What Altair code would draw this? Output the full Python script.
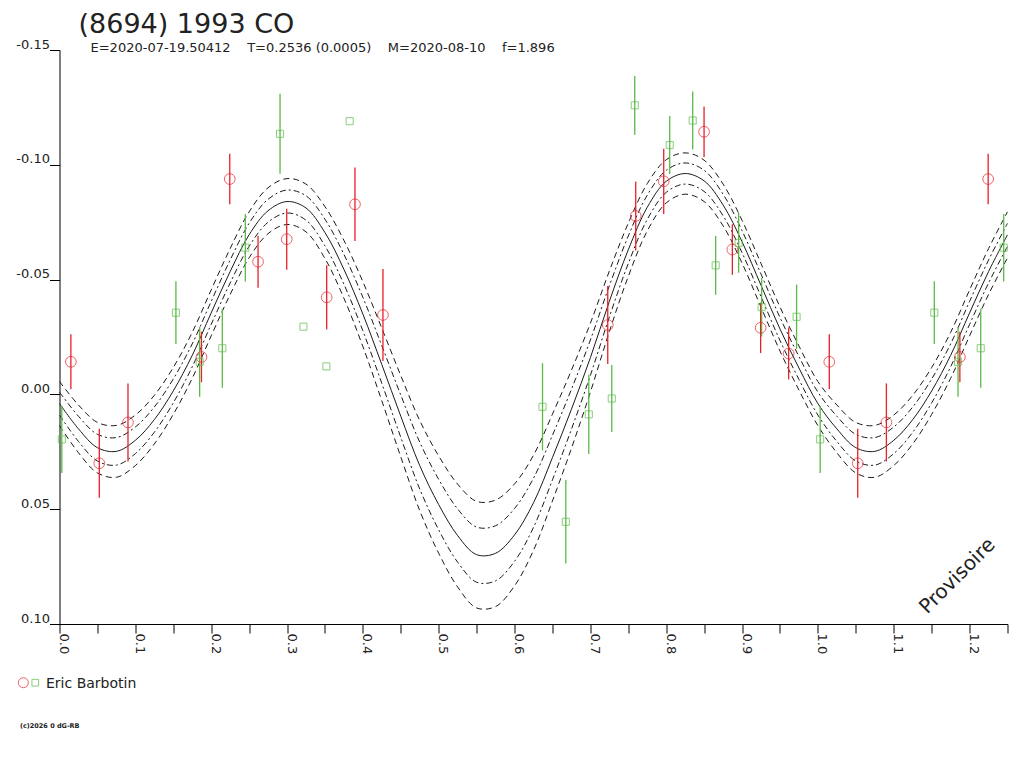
import pandas as pd
import altair as alt

# fitted light curve, every 0.025 in phase (one cycle)
fit_phase = [0.000, 0.025, 0.050, 0.075, 0.100, 0.125, 0.150, 0.175, 0.200, 0.225,
             0.250, 0.275, 0.300, 0.325, 0.350, 0.375, 0.400, 0.425, 0.450, 0.475,
             0.500, 0.525, 0.550, 0.575, 0.600, 0.625, 0.650, 0.675, 0.700, 0.725,
             0.750, 0.775, 0.800, 0.825, 0.850, 0.875, 0.900, 0.925, 0.950, 0.975]
fit_mag = [0.0040, 0.0150, 0.0232, 0.0248, 0.0200, 0.0110, -0.0015, -0.0170, -0.0355, -0.0535,
           -0.0695, -0.0800, -0.0840, -0.0812, -0.0705, -0.0545, -0.0350, -0.0130, 0.0095, 0.0310,
           0.0480, 0.0615, 0.0698, 0.0692, 0.0612, 0.0472, 0.0275, 0.0065, -0.0160, -0.0405,
           -0.0630, -0.0815, -0.0928, -0.0962, -0.0930, -0.0825, -0.0665, -0.0475, -0.0285, -0.0115]
# half widths of the dash-dot (inner) and dashed (outer) envelopes
fit_inner = [0.0050, 0.0055, 0.0058, 0.0060, 0.0058, 0.0055, 0.0052, 0.0050, 0.0050, 0.0050,
             0.0050, 0.0050, 0.0050, 0.0053, 0.0058, 0.0065, 0.0073, 0.0082, 0.0092, 0.0102,
             0.0110, 0.0116, 0.0120, 0.0120, 0.0115, 0.0107, 0.0097, 0.0087, 0.0077, 0.0068,
             0.0060, 0.0053, 0.0048, 0.0046, 0.0046, 0.0047, 0.0048, 0.0049, 0.0050, 0.0050]
fit_outer = [0.0096, 0.0104, 0.0110, 0.0113, 0.0110, 0.0106, 0.0102, 0.0100, 0.0100, 0.0100,
             0.0100, 0.0100, 0.0100, 0.0104, 0.0113, 0.0126, 0.0141, 0.0158, 0.0177, 0.0196,
             0.0212, 0.0224, 0.0232, 0.0232, 0.0222, 0.0207, 0.0189, 0.0170, 0.0150, 0.0132,
             0.0116, 0.0103, 0.0094, 0.0090, 0.0090, 0.0091, 0.0093, 0.0095, 0.0096, 0.0096]

# session 1 (red circles)
red_phase = [0.0150, 0.0525, 0.0903, 0.1872, 0.2245, 0.2618, 0.2996, 0.3523, 0.3896,
             0.4265, 0.7229, 0.7598, 0.7967, 0.8499, 0.8872, 0.9245, 0.9614]
red_mag = [-0.0142, 0.0300, 0.0122, -0.0163, -0.0938, -0.0578, -0.0676, -0.0423, -0.0828,
           -0.0346, -0.0302, -0.0777, -0.0928, -0.1144, -0.0631, -0.0290, -0.0178]
red_err = [0.0120, 0.0150, 0.0170, 0.0110, 0.0110, 0.0113, 0.0133, 0.0140, 0.0160,
           0.0200, 0.0170, 0.0150, 0.0142, 0.0110, 0.0110, 0.0110, 0.0113]

# session 2 (green squares)
green_phase = [0.0030, 0.1535, 0.1848, 0.2147, 0.2450, 0.2908, 0.3216, 0.3519, 0.3826, 0.6369,
               0.6676, 0.6979, 0.7282, 0.7585, 0.8046, 0.8349, 0.8652, 0.8955, 0.9258, 0.9719]
green_mag = [0.0196, -0.0356, -0.0142, -0.0201, -0.0639, -0.1135, -0.0295, -0.0122, -0.1190, 0.0054,
             0.0555, 0.0087, 0.0018, -0.1259, -0.1086, -0.1193, -0.0562, -0.0660, -0.0380, -0.0338]
green_err = [0.0146, 0.0137, 0.0152, 0.0172, 0.0147, 0.0174, 0.0, 0.0, 0.0, 0.0190,
             0.0182, 0.0173, 0.0146, 0.0128, 0.0126, 0.0126, 0.0128, 0.0130, 0.0128, 0.0140]

x_ticks = [0.0, 0.05, 0.1, 0.15, 0.2, 0.25, 0.3, 0.35, 0.4, 0.45, 0.5, 0.55, 0.6,
           0.65, 0.7, 0.75, 0.8, 0.85, 0.9, 0.95, 1.0, 1.05, 1.1, 1.15, 1.2, 1.25]
y_ticks = [-0.15, -0.10, -0.05, 0.0, 0.05, 0.10]

GAP = "\u00a0" * 4  # svg would collapse ordinary runs of spaces
title = "(8694) 1993 CO"
subtitle = GAP.join(["E=2020-07-19.50412", "T=0.2536 (0.0005)", "M=2020-08-10", "f=1.896"])
observer = "Eric Barbotin"
stamp = "(c)2026 0 dG-RB"

RED = "#e8202a"
GREEN = "#5ab946"
INK = "#1a1a1a"
FONT = "DejaVu Sans"
W, H = 948, 574


def wrap(d):
    # the plot runs to phase 1.25, so the start of the cycle is shown twice
    return pd.concat([d, d[d.phase <= 0.25].assign(phase=d.phase + 1)], ignore_index=True)


fit = wrap(pd.DataFrame({"phase": fit_phase, "mag": fit_mag, "d1": fit_inner, "d2": fit_outer}))
fit["in_lo"] = fit.mag - fit.d1
fit["in_hi"] = fit.mag + fit.d1
fit["out_lo"] = fit.mag - fit.d2
fit["out_hi"] = fit.mag + fit.d2


def obs(phase, mag, err):
    d = wrap(pd.DataFrame({"phase": phase, "mag": mag, "err": err}))
    d = d[d.phase <= 1.25]
    d["lo"] = d.mag - d.err
    d["hi"] = d.mag + d.err
    return d


red = obs(red_phase, red_mag, red_err)
green = obs(green_phase, green_mag, green_err)

xscale = alt.Scale(domain=[0, 1.25], nice=False, zero=False)
yscale = alt.Scale(domain=[-0.15, 0.10], nice=False, zero=False, reverse=True)
xaxis = alt.Axis(values=x_ticks, tickSize=9, labelPadding=0, labelAngle=90, labelAlign="left",
                 labelBaseline="alphabetic", labelOverlap=False, labelFlush=False, labelBound=False,
                 labelExpr="round(datum.value*20) % 2 == 0 ? format(datum.value, '.1f') : ''")
yaxis = alt.Axis(values=y_ticks, tickSize=10, labelPadding=0, labelAlign="right",
                 labelBaseline="alphabetic", labelOffset=-2, labelOverlap=False, labelFlush=False,
                 labelExpr="datum.value < 0 ? '-' + format(-datum.value, '.2f') : format(datum.value, '.2f')")


def X():
    return alt.X("phase:Q", scale=xscale, axis=xaxis, title=None)


def Y(field):
    return alt.Y(field, type="quantitative", scale=yscale, axis=yaxis, title=None)


def curve(field, dash=None):
    kw = {"strokeDash": dash} if dash else {}
    return alt.Chart(fit).mark_line(color=INK, strokeWidth=1, interpolate="catmull-rom", **kw).encode(
        x=X(), y=Y(field))


curves = [curve("mag"), curve("in_lo", [6, 3, 2, 3]), curve("in_hi", [6, 3, 2, 3]),
          curve("out_lo", [6, 4]), curve("out_hi", [6, 4])]

bars = [alt.Chart(d).mark_rule(color=c, strokeWidth=1.3).encode(x=X(), y=Y("lo"), y2="hi")
        for d, c in [(red, RED), (green, GREEN)]]

red_pts = alt.Chart(red).mark_point(shape="circle", filled=False, color=RED, size=115, strokeWidth=1).encode(
    x=X(), y=Y("mag"))
green_pts = alt.Chart(green).mark_point(shape="square", filled=False, color=GREEN, size=50, strokeWidth=1).encode(
    x=X(), y=Y("mag"))


def label(text, x, y, size, **kw):
    return alt.Chart(pd.DataFrame({"t": [text]})).mark_text(
        font=FONT, fontSize=size, color="#222", align=kw.pop("align", "left"),
        baseline=kw.pop("baseline", "alphabetic"), **kw).encode(
        x=alt.value(x), y=alt.value(y), text="t:N")


texts = [
    label(title, 19, -17, 27),
    label(subtitle, 31, 2, 13),
    label("Provisoire", 898, 526, 20, angle=315, align="center", baseline="middle"),
    label(observer, -13.5, 637.5, 14),
    label(stamp, -39.5, 678, 6.5, fontWeight="bold"),
]

one = pd.DataFrame({"k": [0]})
legend = [
    alt.Chart(one).mark_point(shape="circle", filled=False, color=RED, size=100, strokeWidth=1).encode(
        x=alt.value(-36.2), y=alt.value(632.7)),
    alt.Chart(one).mark_point(shape="square", filled=False, color=GREEN, size=45, strokeWidth=1).encode(
        x=alt.value(-24.2), y=alt.value(632.7)),
]

chart = alt.layer(*curves, *bars, red_pts, green_pts, *texts, *legend).properties(
    width=W, height=H,
    autosize=alt.AutoSizeParams(type="none"),
    padding={"left": 51.5, "top": 42, "right": 8, "bottom": 130},
).configure_view(strokeWidth=0).configure_axis(
    grid=False, domainColor="black", tickColor="black", domainWidth=1, tickWidth=1,
    labelColor="#222", labelFont=FONT, labelFontSize=13,
)

chart.save("out.html", embed_options={"renderer": "svg", "actions": False})
